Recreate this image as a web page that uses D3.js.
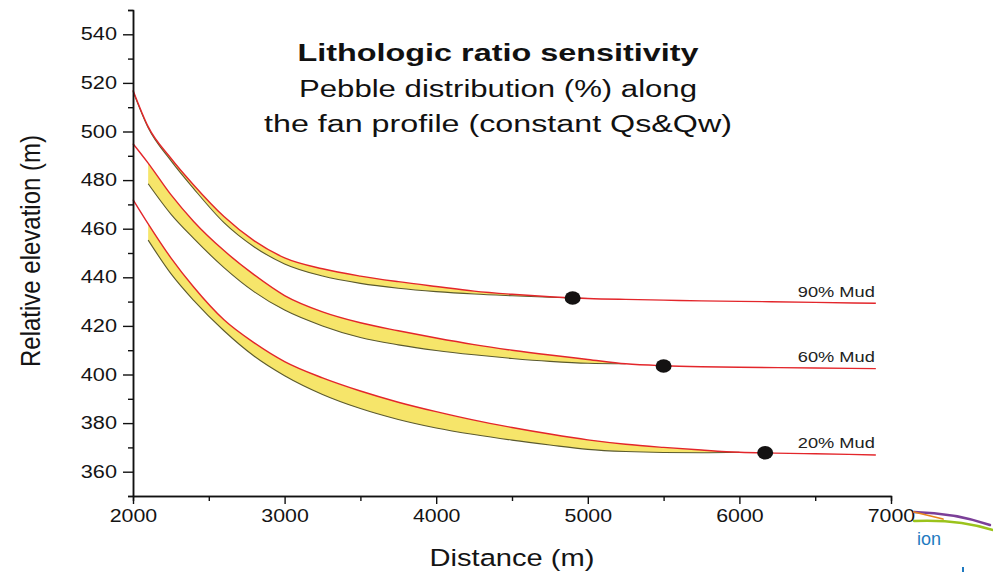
<!DOCTYPE html>
<html>
<head>
<meta charset="utf-8">
<script src="https://cdn.jsdelivr.net/npm/d3@7"></script>
<style>
  body { margin: 0; background: #fff; }
  svg { display: block; font-family: "Liberation Sans", Arial, sans-serif; }
</style>
</head>
<body>
<svg width="993" height="572"></svg>
<script>
// distances (m) where the profiles were read
const dist = [2000, 2100, 2250, 2400, 2600, 2800, 3000, 3250, 3500, 3750, 4000, 4250, 4500, 4750, 5000, 5250, 5500, 5750, 6000, 6500, 6900];

// upper (red) and lower (olive) profile of each run, null = no lower line there
const upper90 = [517, 502, 489, 478, 465, 455, 448, 443.5, 440.5, 438.2, 436.2, 434.3, 433, 432, 431.3, 430.9, 430.6, 430.3, 430.1, 429.7, 429.3];
const lower90 = [516.5, 501.5, 488, 476.5, 462.5, 452.5, 445.5, 440.5, 437.5, 435.5, 434.1, 433.1, 432.4, 431.8, 431.3, null, null, null, null, null, null];
const upper60 = [495, 487, 474, 463, 451, 441, 432.5, 425.8, 421.3, 418, 415, 412.3, 410, 408, 406.2, 404.4, 403.6, 403.2, 403, 402.7, 402.4];
const lower60 = [null, 478.5, 466, 456, 444, 434, 426.5, 420, 415.2, 412.2, 409.9, 408.1, 406.6, 405.4, 404.6, 404.4, null, null, null, null, null];
const upper20 = [472, 462, 448, 436, 422.5, 413, 405.3, 398.6, 393.2, 388.6, 384.7, 381.2, 378.2, 375.5, 373.1, 371.3, 370, 368.9, 368, 367.4, 366.9];
const lower20 = [null, 455.3, 441.5, 430.5, 418, 407.5, 399.5, 391.8, 386, 381.5, 378, 375.3, 373, 371, 369.2, 368.3, 367.9, 367.8, 368, null, null];

const runLabels = ["90% Mud", "60% Mud", "20% Mud"];
// black dots: [distance, elevation]
const dots = [[4900, 431.5], [5500, 403.5], [6170, 367.8]];

const xTicks = [2000, 3000, 4000, 5000, 6000, 7000];
const xMinor = [2500, 3500, 4500, 5500, 6500];
const yTicks = [360, 380, 400, 420, 440, 460, 480, 500, 520, 540];
const yMinor = [350, 370, 390, 410, 430, 450, 470, 490, 510, 530, 550];

const svg = d3.select("svg");

const x = d3.scaleLinear().domain([2000, 7000]).range([133, 891]);
const y = d3.scaleLinear().domain([350, 550]).range([496, 10]);

// ---- profiles
const runs = [
  {up: upper90, low: lower90},
  {up: upper60, low: lower60},
  {up: upper20, low: lower20}
];

const line = d3.line()
  .defined(d => d[1] != null)
  .x(d => x(d[0])).y(d => y(d[1]))
  .curve(d3.curveMonotoneX);

const area = d3.area()
  .defined(d => d[1] != null)
  .x(d => x(d[0]))
  .y0(d => y(d[1]))
  .y1(d => y(d[2]))
  .curve(d3.curveMonotoneX);

const plot = svg.append("g");

runs.forEach(r => {
  const upPts = dist.map((d, i) => [d, r.up[i]]);
  const lowPts = dist.map((d, i) => [d, r.low[i], r.up[i]]);

  plot.append("path")
    .attr("d", area(lowPts))
    .attr("fill", "#f6e56a");

  plot.append("path")
    .attr("d", line(lowPts))
    .attr("fill", "none")
    .attr("stroke", "#5b5a2e")
    .attr("stroke-width", 1.1);

  plot.append("path")
    .attr("d", line(upPts))
    .attr("fill", "none")
    .attr("stroke", "#e3262b")
    .attr("stroke-width", 1.4);
});

plot.selectAll("ellipse.dot")
  .data(dots)
  .join("ellipse")
  .attr("class", "dot")
  .attr("cx", d => x(d[0]))
  .attr("cy", d => y(d[1]))
  .attr("rx", 8)
  .attr("ry", 6.8)
  .attr("fill", "#141212");

plot.selectAll("text.run")
  .data(runLabels)
  .join("text")
  .attr("class", "run")
  .attr("x", x(dist[dist.length - 1]) - 1)
  .attr("y", (d, i) => y(runs[i].up[runs[i].up.length - 1]) - 6.5)
  .attr("text-anchor", "end")
  .attr("font-size", 14.5)
  .attr("fill", "#222")
  .attr("textLength", 77)
  .attr("lengthAdjust", "spacingAndGlyphs")
  .text(d => d);

// ---- axes
function styleAxis(g, k) {
  g.select(".domain").attr("stroke", "#111").attr("stroke-width", 1.5);
  g.selectAll(".tick line").attr("stroke", "#111").attr("stroke-width", 1.4);
  g.selectAll(".tick text")
    .attr("font-family", "Liberation Sans, Arial, sans-serif")
    .attr("font-size", 17.5)
    .attr("fill", "#141414")
    .attr("textLength", function() { return this.getComputedTextLength() * k; })
    .attr("lengthAdjust", "spacingAndGlyphs");
}

const gyMinor = svg.append("g")
  .attr("transform", "translate(133,0)")
  .call(d3.axisLeft(y).tickValues(yMinor).tickSize(5).tickFormat(""));
styleAxis(gyMinor, 1);

const gy = svg.append("g")
  .attr("transform", "translate(133,0)")
  .call(d3.axisLeft(y).tickValues(yTicks).tickSize(10).tickPadding(6).tickSizeOuter(0));
styleAxis(gy, 1.24);

const gxMinor = svg.append("g")
  .attr("transform", "translate(0,496)")
  .call(d3.axisBottom(x).tickValues(xMinor).tickSize(5).tickFormat(""));
styleAxis(gxMinor, 1);

const gx = svg.append("g")
  .attr("transform", "translate(0,496)")
  .call(d3.axisBottom(x).tickValues(xTicks).tickSize(8).tickPadding(6).tickFormat(d3.format("d")).tickSizeOuter(0));
styleAxis(gx, 1.22);

// axis titles
svg.append("text")
  .attr("transform", "translate(40,251) scale(1.15,1) rotate(-90)")
  .attr("text-anchor", "middle")
  .attr("font-size", 24)
  .attr("fill", "#141414")
  .text("Relative elevation (m)");

svg.append("text")
  .attr("x", 512)
  .attr("y", 566)
  .attr("text-anchor", "middle")
  .attr("font-size", 24.5)
  .attr("fill", "#141414")
  .attr("textLength", 165)
  .attr("lengthAdjust", "spacingAndGlyphs")
  .text("Distance (m)");

// ---- title block
const title = [
  {t: "Lithologic ratio sensitivity", y: 60.5, w: 401, bold: true},
  {t: "Pebble distribution (%) along", y: 96.5, w: 398, bold: false},
  {t: "the fan profile (constant Qs&Qw)", y: 131.5, w: 468, bold: false}
];
svg.selectAll("text.title")
  .data(title)
  .join("text")
  .attr("class", "title")
  .attr("x", 498)
  .attr("y", d => d.y)
  .attr("text-anchor", "middle")
  .attr("font-size", 23)
  .attr("font-weight", d => d.bold ? "bold" : "normal")
  .attr("fill", "#111")
  .attr("textLength", d => d.w)
  .attr("lengthAdjust", "spacingAndGlyphs")
  .text(d => d.t);

// ---- slide template leftovers at the bottom right corner
const deco = svg.append("g").attr("fill", "none").attr("stroke-linecap", "round");
deco.append("path").attr("d", "M914,512 Q955,513 990,525").attr("stroke", "#7b3f98").attr("stroke-width", 2.4);
deco.append("path").attr("d", "M914,512 L943,519").attr("stroke", "#e8841a").attr("stroke-width", 1.8);
deco.append("path").attr("d", "M914,521 Q958,519 993,530").attr("stroke", "#9bc31c").attr("stroke-width", 2.4);
svg.append("text")
  .attr("x", 917).attr("y", 545)
  .attr("font-size", 18)
  .attr("fill", "#1f7ac0")
  .text("ion");
svg.append("line")
  .attr("x1", 963).attr("x2", 963).attr("y1", 567).attr("y2", 572)
  .attr("stroke", "#1f7ac0").attr("stroke-width", 2);
</script>
</body>
</html>
